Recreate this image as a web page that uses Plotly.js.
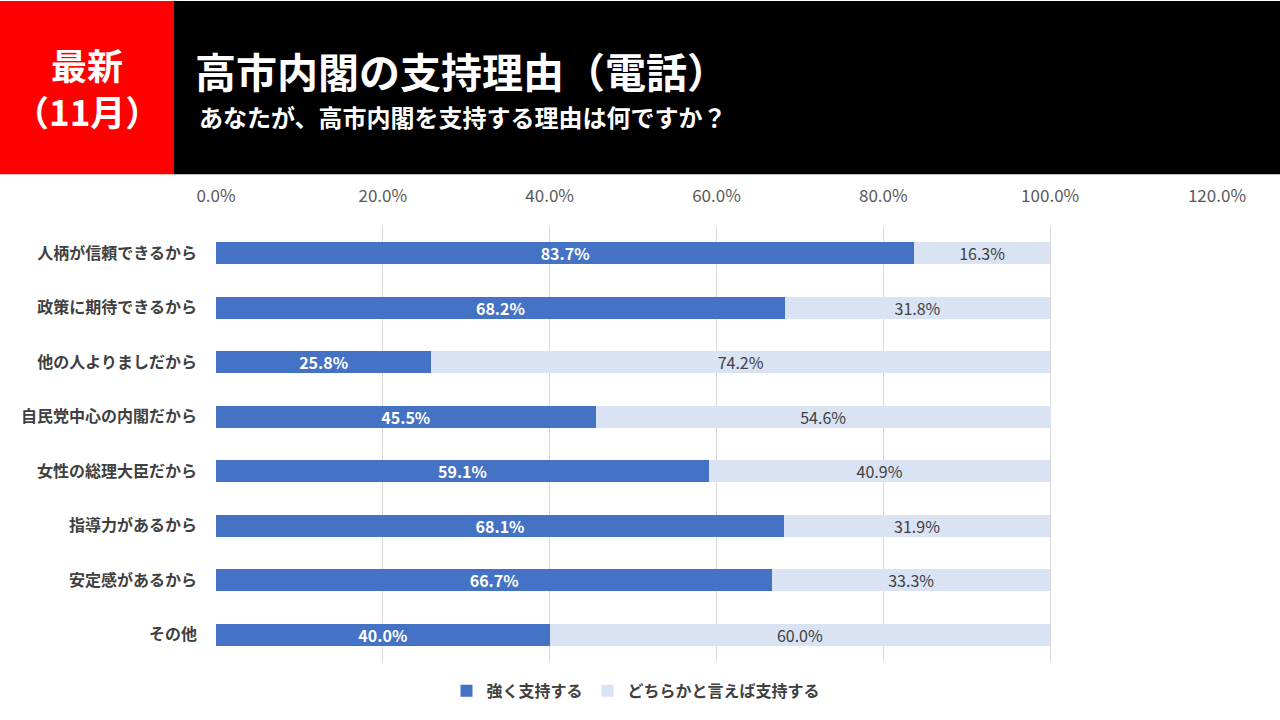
<!DOCTYPE html>
<html><head><meta charset="utf-8">
<script src="https://cdn.plot.ly/plotly-3.0.1.min.js"></script>
<style>html,body{margin:0;padding:0;background:#fff;}#chart{width:1280px;height:720px;}</style>
</head><body><div id="chart"></div>
<script>
const categories = ["人柄が信頼できるから","政策に期待できるから","他の人よりましだから","自民党中心の内閣だから","女性の総理大臣だから","指導力があるから","安定感があるから","その他"];
const strongSupport = [83.7, 68.2, 25.8, 45.5, 59.1, 68.1, 66.7, 40.0];
const somewhatSupport = [16.3, 31.8, 74.2, 54.6, 40.9, 31.9, 33.3, 60.0];
const seriesNames = ["強く支持する","どちらかと言えば支持する"];
const titleText = "高市内閣の支持理由（電話）";
const subtitleText = "あなたが、高市内閣を支持する理由は何ですか？";
const badgeLine1 = "最新";
const badgeLine2 = "（11月）";

const W = 1280, H = 720;
const L = 216, R = 1217, T = 226, B = 664;
const px = x => (x - L) / (R - L);
const py = y => (B - y) / (B - T);
const FONT = '"Noto Sans CJK JP", "Noto Sans", sans-serif';

const fmt = v => v.toFixed(1) + '%';

const traces = [
  {
    type: 'bar', orientation: 'h', name: seriesNames[0],
    y: categories, x: strongSupport,
    text: strongSupport.map(fmt), texttemplate: '%{text}',
    textposition: 'inside', insidetextanchor: 'middle', textangle: 0,
    insidetextfont: {family: FONT, size: 16, color: '#ffffff', weight: 'bold'},
    marker: {color: '#4472C4'}, hoverinfo: 'skip'
  },
  {
    type: 'bar', orientation: 'h', name: seriesNames[1],
    y: categories, x: somewhatSupport,
    text: somewhatSupport.map(fmt), texttemplate: '%{text}',
    textposition: 'inside', insidetextanchor: 'middle', textangle: 0,
    insidetextfont: {family: FONT, size: 16, color: '#404040'},
    marker: {color: '#DAE3F3'}, hoverinfo: 'skip'
  }
];

const layout = {
  width: W, height: H,
  margin: {l: L, r: W - R, t: T, b: H - B, pad: 0},
  paper_bgcolor: '#ffffff', plot_bgcolor: '#ffffff',
  barmode: 'stack', bargap: 0.6,
  uniformtext: {mode: 'show', minsize: 16},
  showlegend: true,
  font: {family: FONT, color: '#404040'},
  xaxis: {
    side: 'top', range: [0, 120], dtick: 20, tick0: 0,
    tickformat: '.1f', ticksuffix: '%',
    showgrid: true, gridcolor: '#D9D9D9', gridwidth: 1,
    zeroline: false, showline: false, ticks: '',
    tickfont: {family: FONT, size: 17, color: '#595959'},
    ticklabelstandoff: 20, fixedrange: true
  },
  yaxis: {
    type: 'category', categoryorder: 'array', categoryarray: categories,
    autorange: 'reversed', showgrid: false, zeroline: false, showline: false,
    ticks: '', ticklabelstandoff: 18,
    tickfont: {family: FONT, size: 16, color: '#404040', weight: 'bold'},
    fixedrange: true
  },
  legend: {
    orientation: 'h', x: 0.5 - (216 + 1001/2 - 636)/1001, xanchor: 'center',
    y: py(693), yanchor: 'middle',
    font: {family: FONT, size: 16, color: '#404040', weight: 'bold'},
    traceorder: 'normal', itemwidth: 30
  },
  shapes: [
    {type: 'rect', xref: 'paper', yref: 'paper', x0: px(174), x1: px(1280), y0: py(174), y1: py(0), fillcolor: '#000000', line: {width: 0}, layer: 'above'},
    {type: 'rect', xref: 'paper', yref: 'paper', x0: px(0), x1: px(174), y0: py(174), y1: py(0), fillcolor: '#FF0000', line: {width: 0}, layer: 'above'}
  ],
  annotations: [
    {xref: 'paper', yref: 'paper', x: px(87), y: py(63), xanchor: 'center', yanchor: 'middle', showarrow: false,
     text: badgeLine1, font: {family: FONT, size: 36, color: '#ffffff', weight: 'bold'}},
    {xref: 'paper', yref: 'paper', x: px(87), y: py(110), xanchor: 'center', yanchor: 'middle', showarrow: false,
     text: badgeLine2, font: {family: FONT, size: 35, color: '#ffffff', weight: 'bold'}},
    {xref: 'paper', yref: 'paper', x: px(193), y: py(69), xanchor: 'left', yanchor: 'middle', showarrow: false,
     text: titleText, font: {family: FONT, size: 41, color: '#ffffff', weight: 'bold'}},
    {xref: 'paper', yref: 'paper', x: px(197), y: py(116), xanchor: 'left', yanchor: 'middle', showarrow: false,
     text: subtitleText, font: {family: FONT, size: 24, color: '#ffffff', weight: 'bold'}}
  ]
};

Plotly.newPlot('chart', traces, layout, {displayModeBar: false, staticPlot: true});
</script></body></html>
